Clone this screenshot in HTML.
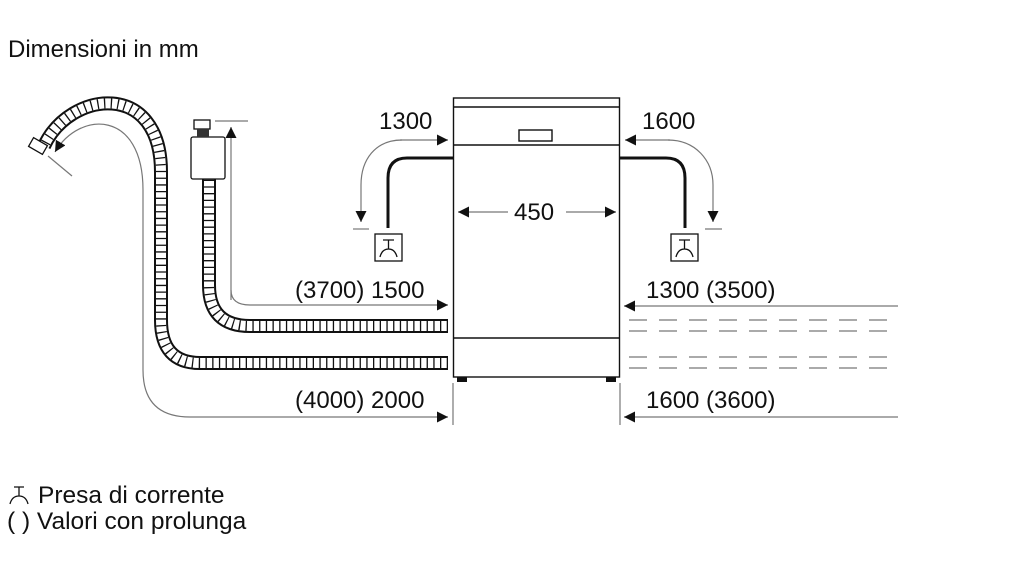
<!DOCTYPE html>
<html><head><meta charset="utf-8"><style>
html,body{margin:0;padding:0;background:#fff;width:1024px;height:576px;overflow:hidden}
svg{display:block}
text{font-family:"Liberation Sans",Arial,sans-serif;fill:#111}
</style></head><body>
<svg width="1024" height="576" viewBox="0 0 1024 576" xmlns="http://www.w3.org/2000/svg">
<defs>
<marker id="ar" viewBox="0 0 10 10" refX="10" refY="5" markerWidth="11" markerHeight="11" markerUnits="userSpaceOnUse" orient="auto"><path d="M0,0 L10,5 L0,10 z" fill="#111"/></marker>
</defs>
<text x="8" y="57" font-size="24">Dimensioni in mm</text>

<!-- hoses -->
<g fill="none">
<path d="M448 363 H200 Q161 363 161 320 V172 C161 80 70 90 44 146" stroke="#111" stroke-width="14"/>
<path d="M448 363 H200 Q161 363 161 320 V172 C161 80 70 90 44 146" stroke="#fff" stroke-width="10"/>
<path d="M448 363 H200 Q161 363 161 320 V172 C161 80 70 90 44 146" stroke="#111" stroke-width="10" stroke-dasharray="1.3 5.4"/>
<path d="M448 326 H250 Q209 326 209 285 V178" stroke="#111" stroke-width="14"/>
<path d="M448 326 H250 Q209 326 209 285 V178" stroke="#fff" stroke-width="10"/>
<path d="M448 326 H250 Q209 326 209 285 V178" stroke="#111" stroke-width="10" stroke-dasharray="1.3 5.4"/>
</g>
<!-- nozzle -->
<rect x="30" y="141" width="16" height="10" fill="#fff" stroke="#111" stroke-width="1.3" transform="rotate(30 38 146)"/>
<!-- valve -->
<rect x="191" y="137" width="34" height="42" rx="2" fill="#fff" stroke="#111" stroke-width="1.3"/>
<rect x="194" y="120" width="16" height="9" fill="#fff" stroke="#111" stroke-width="1.3"/>
<rect x="197" y="129" width="12" height="8" fill="#333"/>

<!-- gray dimension lines -->
<g fill="none" stroke="#777" stroke-width="1.2">
<path d="M231 300 V127" marker-end="url(#ar)"/>
<path d="M231 290 Q231 305 250 305 H448" marker-end="url(#ar)"/>
<path d="M215 121 H248"/>
<path d="M143 190 V370 Q143 417 190 417 H448" marker-end="url(#ar)"/>
<path d="M143 190 C143 110 80 110 55 152" marker-end="url(#ar)"/>
<path d="M48 156 L72 176"/>
<path d="M400 140 H448" marker-end="url(#ar)"/>
<path d="M402 140 C375 140 361 160 361 185 V222" marker-end="url(#ar)"/>
<path d="M353 229 H369"/>
<path d="M670 140 H625" marker-end="url(#ar)"/>
<path d="M668 140 C695 140 713 160 713 185 V222" marker-end="url(#ar)"/>
<path d="M705 229 H722"/>
<path d="M898 306 H624" marker-end="url(#ar)"/>
<path d="M898 417 H624" marker-end="url(#ar)"/>
<path d="M453 383 V425 M620 383 V425"/>
<path d="M622 320 H898 M622 331 H898 M622 357 H898 M622 368 H898" stroke-dasharray="18 12" stroke-dashoffset="23"/>
<path d="M508 212 H458" marker-end="url(#ar)"/>
<path d="M566 212 H616" marker-end="url(#ar)"/>
</g>

<!-- cabinet -->
<g fill="none" stroke="#111" stroke-width="1.4">
<rect x="453.5" y="98" width="166" height="279"/>
<path d="M453.5 107 H619.5 M453.5 145 H619.5 M453.5 338 H619.5"/>
<rect x="519" y="130" width="33" height="11"/>
</g>
<rect x="457" y="377" width="10" height="5" fill="#111"/>
<rect x="606" y="377" width="10" height="5" fill="#111"/>

<!-- power cords -->
<g fill="none" stroke="#111" stroke-width="3">
<path d="M453 158 H407 Q388 158 388 178 V228"/>
<path d="M620 158 H666 Q685 158 685 178 V228"/>
</g>
<g fill="none" stroke="#111" stroke-width="1.3">
<rect x="375" y="234" width="27" height="27"/>
<path d="M388.5 240 V249 M380 257 Q382 249 388.5 249 Q395 249 397 257 M383 240 H394"/>
<rect x="671" y="234" width="27" height="27"/>
<path d="M684.5 240 V249 M676 257 Q678 249 684.5 249 Q691 249 693 257 M679 240 H690"/>
</g>

<g font-size="24">
<text x="379" y="129">1300</text>
<text x="642" y="129">1600</text>
<text x="514" y="220">450</text>
<text x="295" y="298">(3700) 1500</text>
<text x="646" y="298">1300 (3500)</text>
<text x="295" y="408">(4000) 2000</text>
<text x="646" y="408">1600 (3600)</text>
</g>
<g font-size="24.5">
<text x="38" y="503">Presa di corrente</text>
<text x="7" y="529">( ) Valori con prolunga</text>
</g>
<g fill="none" stroke="#111" stroke-width="1.3">
<path d="M19 487 V496 M10 504 Q12 496 19 496 Q26 496 28 504 M14 487 H24"/>
</g>
</svg>
</body></html>
